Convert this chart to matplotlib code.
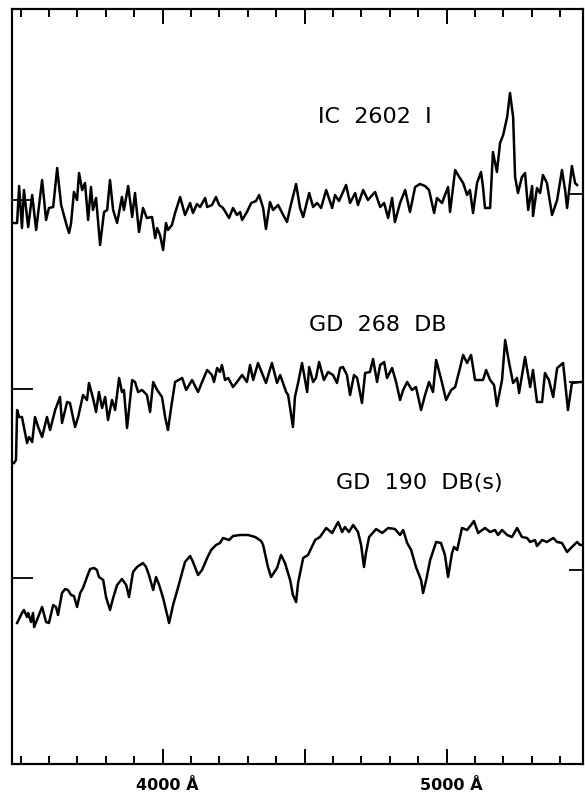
import matplotlib
matplotlib.use('Agg')
from matplotlib import pyplot as plt
from matplotlib.ticker import MultipleLocator
import matplotlib.transforms as mtransforms

plt.rcParams['font.family'] = ['DejaVu Sans']

# IC 2602 I  (wavelength in A, relative flux)
ic_wave = [3470, 3488, 3495, 3505, 3512, 3527, 3541, 3555, 3576, 3590, 3600, 3615, 3629, 3643,
           3664, 3671, 3678, 3688, 3699, 3706, 3717, 3727, 3738, 3748, 3755, 3766, 3780, 3794,
           3805, 3815, 3826, 3840, 3857, 3864, 3879, 3893, 3903, 3917, 3931, 3945, 3963, 3974,
           3981, 3991, 4002, 4012, 4019, 4033, 4044, 4062, 4079, 4097, 4107, 4121, 4132, 4150,
           4157, 4174, 4188, 4199, 4213, 4234, 4248, 4262, 4273, 4280, 4297, 4312, 4329, 4340,
           4354, 4364, 4378, 4389, 4407, 4421, 4438, 4449, 4470, 4484, 4495, 4516, 4530, 4544,
           4558, 4576, 4597, 4607, 4621, 4646, 4660, 4678, 4688, 4706, 4723, 4748, 4766, 4780,
           4794, 4808, 4818, 4836, 4854, 4871, 4889, 4906, 4924, 4938, 4956, 4966, 4984, 4994,
           5005, 5012, 5030, 5040, 5058, 5072, 5082, 5093, 5107, 5121, 5128, 5135, 5153, 5163,
           5177, 5188, 5199, 5213, 5223, 5234, 5241, 5251, 5265, 5276, 5287, 5301, 5304, 5318,
           5329, 5339, 5353, 5371, 5389, 5406, 5417, 5424, 5441, 5452, 5459]
ic_flux = [-23, -23, 14, -28, 10, -27, 5, -30, 20, -20, -8, -7, 32, -5,
           -27, -33, -23, 8, 0, 27, 10, 17, -20, 13, -10, 2, -45, -12,
           -10, 20, -10, -23, 3, -10, 14, -17, 7, -32, -8, -18, -17, -38,
           -28, -35, -50, -23, -30, -25, -13, 3, -15, -3, -13, -4, -7, 2,
           -7, -5, 3, -5, -8, -18, -8, -15, -12, -20, -12, -3, -1, 5,
           -8, -29, -2, -10, -5, -13, -22, -8, 16, -8, -17, 7, -7, -3,
           -8, 10, -8, 5, -1, 15, -3, 7, -5, 10, 0, 8, -7, -3,
           -18, 2, -22, -3, 10, -12, 13, 16, 14, 10, -13, 2, -3, 5,
           13, -12, 30, 25, 17, 5, 10, -13, 17, 28, 13, -8, -8, 48,
           28, 57, 65, 83, 107, 83, 23, 7, 23, 27, -10, 14, -16, 12,
           7, 25, 17, -15, 0, 30, 10, -8, 34, 17, 15]

# GD 268 DB
gd268_wave = [3477, 3484, 3488, 3495, 3505, 3512, 3523, 3530, 3541, 3551, 3562, 3576, 3593, 3604,
              3622, 3639, 3646, 3664, 3674, 3692, 3703, 3720, 3734, 3741, 3755, 3766, 3776, 3787,
              3798, 3808, 3822, 3833, 3847, 3857, 3864, 3875, 3893, 3903, 3914, 3928, 3945, 3956,
              3967, 3981, 3998, 4009, 4019, 4030, 4044, 4069, 4083, 4104, 4125, 4139, 4157, 4174,
              4181, 4192, 4202, 4209, 4220, 4231, 4248, 4262, 4280, 4297, 4308, 4319, 4336, 4350,
              4364, 4385, 4403, 4414, 4435, 4442, 4459, 4466, 4477, 4491, 4509, 4516, 4530, 4540,
              4551, 4568, 4583, 4600, 4614, 4625, 4635, 4649, 4660, 4674, 4685, 4702, 4713, 4730,
              4741, 4755, 4766, 4780, 4790, 4808, 4822, 4836, 4847, 4861, 4878, 4892, 4910, 4924,
              4938, 4952, 4963, 4984, 4998, 5016, 5030, 5047, 5058, 5072, 5086, 5100, 5111, 5128,
              5139, 5153, 5167, 5177, 5195, 5206, 5220, 5234, 5248, 5255, 5276, 5294, 5304, 5318,
              5336, 5346, 5360, 5375, 5389, 5410, 5427, 5441, 5470, 5480]
gd268_flux = [-74, -71, -21, -28, -28, -38, -54, -48, -53, -28, -38, -48, -28, -41,
              -21, -8, -34, -13, -14, -38, -28, -6, -11, 6, -9, -23, -3, -19,
              -8, -31, -11, -21, 11, -3, -1, -39, 9, 7, -3, -1, -6, -23,
              7, -1, -8, -28, -41, -19, 7, 11, -1, 9, -3, 7, 19, 14,
              7, 21, 17, 24, 9, 11, 2, 7, 14, 7, 24, 9, 26, 16,
              6, 26, 6, 14, -3, -6, -38, -8, 6, 26, -3, 22, 7, 11,
              27, 9, 17, 14, 6, 21, 22, 14, -6, 14, 11, -14, 16, 17,
              30, 7, 24, 27, 11, 21, 7, -11, -1, 7, -1, 2, -21, -6,
              7, -3, 29, 6, -11, -1, 2, 21, 34, 26, 34, 9, 9, 9,
              19, 9, 4, -17, 9, 49, 26, 6, 11, -4, 32, 2, 19, -13,
              -13, 16, 9, -8, 21, 26, -21, 6, 7, 7]

# GD 190 DB(s)
gd190_wave = [3488, 3505, 3512, 3523, 3527, 3537, 3544, 3548, 3562, 3576, 3590, 3600, 3615, 3625,
              3632, 3646, 3657, 3667, 3678, 3688, 3699, 3710, 3720, 3734, 3745, 3759, 3769, 3776,
              3791, 3801, 3815, 3826, 3840, 3857, 3872, 3882, 3896, 3910, 3931, 3942, 3952, 3967,
              3977, 3988, 4002, 4023, 4037, 4055, 4079, 4097, 4107, 4125, 4139, 4157, 4171, 4188,
              4202, 4213, 4234, 4248, 4273, 4301, 4326, 4347, 4354, 4364, 4371, 4382, 4403, 4417,
              4431, 4449, 4459, 4470, 4477, 4495, 4512, 4537, 4554, 4576, 4597, 4618, 4632, 4642,
              4656, 4671, 4688, 4699, 4709, 4716, 4727, 4752, 4773, 4794, 4818, 4836, 4847, 4861,
              4875, 4892, 4910, 4917, 4928, 4942, 4963, 4980, 4994, 5005, 5019, 5026, 5037, 5054,
              5072, 5086, 5096, 5111, 5135, 5153, 5170, 5181, 5195, 5213, 5230, 5248, 5265, 5283,
              5294, 5311, 5318, 5336, 5353, 5375, 5389, 5406, 5424, 5441, 5459, 5470, 5487]
gd190_flux = [-45, -35, -32, -39, -35, -44, -35, -49, -39, -29, -44, -45, -27, -29,
              -37, -15, -11, -12, -17, -18, -29, -15, -10, 1, 9, 10, 8, 1,
              -2, -19, -32, -20, -7, -1, -7, -19, 6, 11, 15, 11, 3, -12,
              1, -7, -20, -45, -27, -9, 16, 22, 16, 3, 8, 20, 28, 33,
              35, 40, 38, 42, 43, 43, 41, 37, 33, 20, 11, 1, 10, 23,
              15, -2, -17, -24, -5, 20, 23, 38, 41, 50, 45, 56, 46, 51,
              46, 53, 46, 33, 11, 25, 41, 49, 45, 50, 49, 43, 48, 35,
              28, 11, -2, -15, -2, 18, 36, 35, 23, 1, 25, 31, 28, 50,
              48, 53, 57, 45, 50, 46, 48, 43, 48, 43, 41, 50, 41, 40,
              36, 38, 32, 38, 36, 40, 36, 35, 26, 31, 36, 33, 33]

names = ['IC  2602  I', 'GD  268  DB', 'GD  190  DB(s)']
offsets = [564, 375, 186]          # zero level of each trace (left ticks)
right_levels = [570, 382, 194]     # ticks on the right edge
name_pos = [(4748, 647), (4759, 439), (4903, 281)]

fig = plt.figure(figsize=(5.85, 7.93), dpi=100)
ax = fig.add_axes([12 / 585, 29 / 793, 571 / 585, 755 / 793])

spectra = [(ic_wave, ic_flux), (gd268_wave, gd268_flux), (gd190_wave, gd190_flux)]
for (w, f), off in zip(spectra, offsets):
    ax.plot(w, [v + off for v in f], color='black', lw=1.8, solid_joinstyle='round')

for name, (x, y) in zip(names, name_pos):
    ax.text(x, y, name, ha='center', va='center', fontsize=16, color='black')

ax.set_xlim(3470, 5480)
ax.set_ylim(0, 755)

# x ticks on top and bottom, pointing in
ax.xaxis.set_minor_locator(MultipleLocator(100))
ax.set_xticks([4000, 4500, 5000])
ax.set_xticklabels(['4000 Å', '', '5000 Å'], fontsize=11.5, fontweight='bold')
ax.tick_params(axis='x', which='major', direction='in', length=11, width=1.4,
               top=True, bottom=True, pad=10)
ax.tick_params(axis='x', which='minor', direction='in', length=6, width=1.4,
               top=True, bottom=True)
shift = mtransforms.ScaledTranslation(5 / 100, 0, fig.dpi_scale_trans)
for lab in ax.get_xticklabels():
    lab.set_transform(lab.get_transform() + shift)

# y ticks: zero levels of each trace
ax.set_yticks(offsets)
ax.set_yticklabels([])
ax.tick_params(axis='y', direction='in', length=15, width=1.3)

ax2 = ax.twinx()
ax2.set_ylim(ax.get_ylim())
ax2.set_yticks(right_levels)
ax2.set_yticklabels([])
ax2.tick_params(axis='y', direction='in', length=10, width=1.3)

for a in (ax, ax2):
    for s in a.spines.values():
        s.set_linewidth(1.5)

fig.savefig('out.png', dpi=100)
